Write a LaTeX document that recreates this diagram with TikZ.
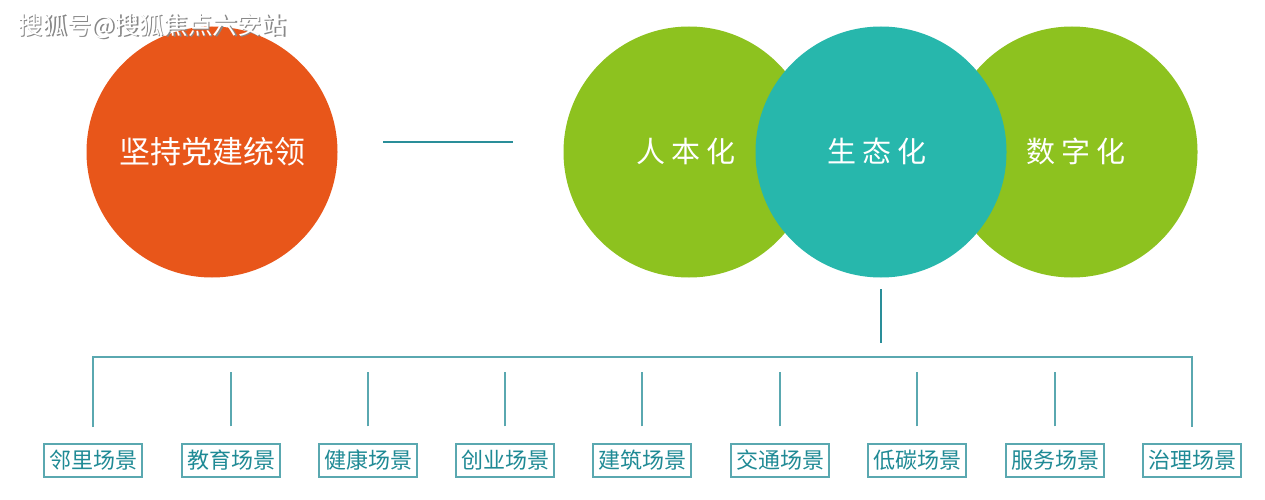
\documentclass[tikz,border=0pt]{standalone}
\usepackage{fontspec}
\setmainfont{Noto Sans CJK SC}
\newfontfamily\cjk{Noto Sans CJK SC}
\definecolor{orng}{HTML}{E8561A}
\definecolor{grn}{HTML}{8DC21F}
\definecolor{tealc}{HTML}{27B7AC}
\definecolor{lineteal}{HTML}{2A8E99}
\definecolor{boxteal}{HTML}{5AA8B0}
\definecolor{txtteal}{HTML}{1F8A95}
\definecolor{shadowgray}{HTML}{888888}
\begin{document}
\begin{tikzpicture}[x=1pt,y=-1pt,
  bigcirc/.style={circle,minimum size=251pt,inner sep=0pt,text=white,font=\cjk\fontsize{31}{34}\selectfont},
  circtext/.style={text=white,font=\cjk\fontsize{29}{32}\selectfont},
  scenebox/.style={draw=boxteal,line width=1.2pt,minimum width=98pt,minimum height=33pt,inner sep=0pt,text=txtteal,font=\cjk\fontsize{22}{24}\selectfont},
  wmark/.style={anchor=west,inner sep=0pt,font=\cjk\fontsize{24.5}{26}\selectfont},
  link/.style={draw=lineteal,line width=2pt},
  bus/.style={draw=boxteal,line width=1.5pt}]
\useasboundingbox (0,0) rectangle (1265,500);
\fill[white] (0,0) rectangle (1265,500);
% circles
\node[bigcirc,fill=orng] (party) at (212,152) {坚持党建统领};
\node[bigcirc,fill=grn] (human) at (689,152) {};
\node[bigcirc,fill=grn] (digit) at (1072,152) {};
\node[bigcirc,fill=tealc] (eco) at (881,152) {};
\node[circtext] (humant) at (686,151) {人\hspace{6pt}本\hspace{6pt}化};
\node[circtext] (ecot) at (877,151) {生\hspace{6pt}态\hspace{6pt}化};
\node[circtext] (digitt) at (1076,151) {数\hspace{6pt}字\hspace{6pt}化};
% watermark
\node[wmark,text=shadowgray] (wms) at (19.5,27.5) {搜狐号@搜狐焦点六安站};
\node[wmark,text=white] (wm) at (18,26) {搜狐号@搜狐焦点六安站};
% connector between
\coordinate (la) at (383,142);
\coordinate (lb) at (513,142);
\draw[link] (la) -- (lb);
% tree
\coordinate (vtop) at (881,289);
\coordinate (vbot) at (881,343);
\draw[link] (vtop) -- (vbot);
\foreach \n/\x/\t in {s1/93/邻里场景,s2/231/教育场景,s3/368/健康场景,s4/505/创业场景,s5/642/建筑场景,s6/780/交通场景,s7/917/低碳场景,s8/1055/服务场景,s9/1192/治理场景}{
  \node[scenebox] (\n) at (\x,460.5) {\t};
}
\draw[bus] (93,427) |- (1192,357) -- (1192,427);
\foreach \n in {s2,s3,s4,s5,s6,s7,s8}{
  \draw[bus,line width=1.2pt] (\n.north) ++(0,-17) -- ++(0,-54);
}
\end{tikzpicture}
\end{document}
